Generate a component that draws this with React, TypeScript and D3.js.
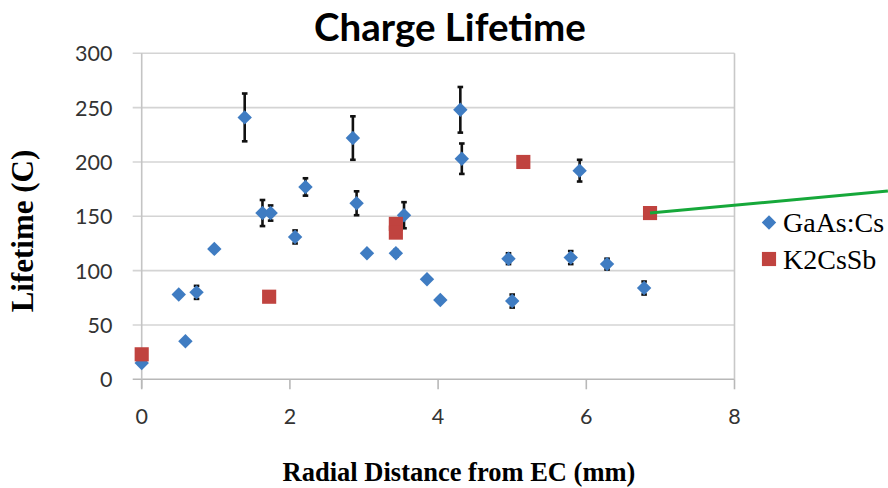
import React from "react";
import * as d3 from "d3";

const gaasX = [0, 0.5, 0.59, 0.74, 0.98, 1.39, 1.63, 1.74, 2.07, 2.21, 2.85, 2.9, 3.04, 3.43, 3.54, 3.85, 4.03, 4.3, 4.32, 4.95, 5.0, 5.79, 5.91, 6.28, 6.78];
const gaasY = [15, 78, 35, 80, 120, 241, 153, 153, 131, 177, 222, 162, 116, 116, 151, 92, 73, 248, 203, 111, 72, 112, 192, 106, 84];
const gaasErr = [0, 0, 0, 6, 0, 22, 12, 7, 6, 8, 20, 11, 0, 3, 12, 0, 0, 21, 14, 5, 6, 6, 10, 5, 6];

const k2X = [0, 1.72, 3.43, 3.43, 5.15, 6.86];
const k2Y = [23, 76, 143, 135, 200, 153];

const xTicks = [0, 2, 4, 6, 8];
const yTicks = [0, 50, 100, 150, 200, 250, 300];

const arrowLine: [number, number][] = [
  [6.86, 153],
  [10.07, 173.3],
];

const seriesNames = ["GaAs:Cs", "K2CsSb"];

const W = 888;
const H = 488;
const BLUE = "#3f7cc2";
const RED = "#c0433f";

export default function App() {
  const x = d3.scaleLinear().domain([0, 8]).range([141.7, 734.5]);
  const y = d3.scaleLinear().domain([0, 300]).range([379.3, 53.3]);

  const diamond = d3.symbol().type(d3.symbolSquare).size(104)()!;
  const square = d3.symbol().type(d3.symbolSquare).size(200)()!;
  const line = d3
    .line<[number, number]>()
    .x((d) => x(d[0]))
    .y((d) => y(d[1]));

  const gaas = gaasX.map((v, i) => ({ x: v, y: gaasY[i], e: gaasErr[i] }));
  const k2 = k2X.map((v, i) => ({ x: v, y: k2Y[i] }));

  const tickFont = "Lato, 'Open Sans', sans-serif";
  const serif = "'Liberation Serif', 'Times New Roman', serif";

  return (
    <svg
      width={W}
      height={H}
      style={{ position: "absolute", left: 0, top: 0, background: "#fff" }}
    >
      <rect x={0} y={0} width={W} height={H} fill="#fff" />
      {/* gridlines */}
      {yTicks.map((t) => (
        <line
          key={"g" + t}
          x1={x(0) - 9}
          x2={x(8)}
          y1={y(t)}
          y2={y(t)}
          stroke={t === 0 ? "#b8b8b8" : "#d4d4d4"}
          strokeWidth={1.6}
        />
      ))}
      {/* axes */}
      <line x1={x(0)} x2={x(0)} y1={y(300)} y2={y(0) + 9} stroke="#c4c4c4" strokeWidth={1.6} />
      <line x1={x(8)} x2={x(8)} y1={y(300)} y2={y(0)} stroke="#c8c8c8" strokeWidth={1.6} />
      {xTicks.map((t) => (
        <line
          key={"xt" + t}
          x1={x(t)}
          x2={x(t)}
          y1={y(0)}
          y2={y(0) + 10}
          stroke="#b8b8b8"
          strokeWidth={1.6}
        />
      ))}
      {/* tick labels */}
      {yTicks.map((t) => (
        <text
          key={"yl" + t}
          x={112.5}
          y={y(t)}
          textAnchor="end"
          dominantBaseline="central"
          fontFamily={tickFont}
          fontSize={21.5}
          fill="#333"
        >
          {t}
        </text>
      ))}
      {xTicks.map((t) => (
        <text
          key={"xl" + t}
          x={x(t)}
          y={416}
          textAnchor="middle"
          dominantBaseline="central"
          fontFamily={tickFont}
          fontSize={21.5}
          fill="#333"
        >
          {t}
        </text>
      ))}
      {/* error bars */}
      {gaas
        .filter((d) => d.e > 0)
        .map((d, i) => (
          <g key={"e" + i} stroke="#111" strokeWidth={2.6}>
            <line x1={x(d.x)} x2={x(d.x)} y1={y(d.y - d.e)} y2={y(d.y + d.e)} />
            <line x1={x(d.x) - 2.8} x2={x(d.x) + 2.8} y1={y(d.y - d.e)} y2={y(d.y - d.e)} />
            <line x1={x(d.x) - 2.8} x2={x(d.x) + 2.8} y1={y(d.y + d.e)} y2={y(d.y + d.e)} />
          </g>
        ))}
      {/* GaAs diamonds */}
      {gaas.map((d, i) => (
        <path
          key={"d" + i}
          d={diamond}
          transform={`translate(${x(d.x)},${y(d.y)}) rotate(45)`}
          fill={BLUE}
        />
      ))}
      {/* K2CsSb squares */}
      {k2.map((d, i) => (
        <path
          key={"s" + i}
          d={square}
          transform={`translate(${x(d.x)},${y(d.y)})`}
          fill={RED}
        />
      ))}
      {/* annotation line */}
      <path d={line(arrowLine)!} stroke="#16a83a" strokeWidth={3} fill="none" />
      {/* title */}
      <text
        x={450}
        y={41}
        textAnchor="middle"
        fontFamily={tickFont}
        fontWeight="bold"
        fontSize={38.5}
        fill="#000"
      >
        Charge Lifetime
      </text>
      {/* axis titles */}
      <text
        x={459}
        y={481}
        textAnchor="middle"
        fontFamily={serif}
        fontWeight="bold"
        fontSize={26.5}
        fill="#000"
      >
        Radial Distance from EC (mm)
      </text>
      <text
        transform="translate(33,231) rotate(-90)"
        textAnchor="middle"
        fontFamily={serif}
        fontWeight="bold"
        fontSize={31}
        fill="#000"
      >
        Lifetime (C)
      </text>
      {/* legend */}
      {seriesNames.map((name, i) => (
        <g key={"lg" + i} transform={`translate(769,${222.5 + i * 36.5})`}>
          {i === 0 ? (
            <path d={diamond} transform="rotate(45)" fill={BLUE} />
          ) : (
            <path d={square} fill={RED} />
          )}
          <text
            x={14}
            y={0}
            dominantBaseline="central"
            fontFamily={serif}
            fontSize={28}
            fill="#000"
          >
            {name}
          </text>
        </g>
      ))}
    </svg>
  );
}
